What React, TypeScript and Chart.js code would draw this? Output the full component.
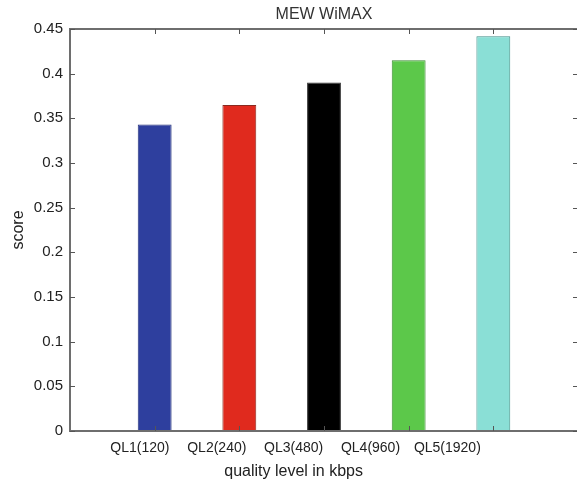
import React, { useEffect, useRef } from "react";
import { Chart, registerables } from "chart.js";

Chart.register(...registerables);

const categories = ["QL1(120)", "QL2(240)", "QL3(480)", "QL4(960)", "QL5(1920)"];
const positions = [1, 2, 3, 4, 5];
const scores = [0.343, 0.365, 0.39, 0.415, 0.442];
const barColors = ["#2e3f9e", "#e02a1e", "#000000", "#5cc84a", "#8adfd6"];
const borderColors = ["#24307a", "#8a2a20", "#333333", "#3c8a32", "#3e8f88"];
const yTickValues = [0, 0.05, 0.1, 0.15, 0.2, 0.25, 0.3, 0.35, 0.4, 0.45];
const chartTitle = "MEW WiMAX";
const xTitle = "quality level in kbps";

const AXIS = "#6e6e6e";
const FONT = "Liberation Sans, Arial, sans-serif";

const decorations = {
  id: "decorations",
  afterDraw(chart: any) {
    const { ctx, scales } = chart;
    const ys = scales.y;
    const L = Math.round(chart.chartArea.left);
    const R = Math.round(chart.chartArea.right);
    const T = Math.round(ys.getPixelForValue(0.45));
    const B = Math.round(ys.getPixelForValue(0));
    ctx.save();
    ctx.fillStyle = AXIS;
    ctx.fillRect(L - 1, T - 1, R - L + 2, 2);
    ctx.fillRect(L - 1, B - 1, R - L + 2, 2);
    ctx.fillRect(L - 1, T - 1, 2, B - T + 2);
    ctx.fillRect(R - 1, T - 1, 2, B - T + 2);
    ctx.fillStyle = "#555";
    for (const v of yTickValues) {
      const y = Math.round(ys.getPixelForValue(v));
      ctx.fillRect(L, y, 5, 1);
      ctx.fillRect(R - 5, y, 5, 1);
    }
    for (const p of positions) {
      const x = Math.round(scales.x.getPixelForValue(p));
      ctx.fillRect(x, B - 5, 1, 5);
      ctx.fillRect(x, T, 1, 5);
    }
    ctx.fillStyle = "#333";
    ctx.textAlign = "center";
    ctx.textBaseline = "middle";
    ctx.font = `16px ${FONT}`;
    ctx.fillText(chartTitle, (L + R) / 2, 15);
    ctx.fillStyle = "#222";
    ctx.textBaseline = "alphabetic";
    ctx.fillText(xTitle, scales.xl.getPixelForValue(3), 476);
    ctx.restore();
  },
};

export default function App() {
  const ref = useRef<HTMLCanvasElement | null>(null);
  useEffect(() => {
    if (!ref.current) return;
    const chart = new Chart(ref.current, {
      type: "bar",
      data: {
        datasets: [
          {
            data: positions.map((p, i) => ({ x: p, y: scores[i] })),
            backgroundColor: barColors,
            borderColor: borderColors,
            borderWidth: 1,
            barPercentage: 0.4,
            categoryPercentage: 1,
          },
        ],
      },
      options: {
        responsive: false,
        maintainAspectRatio: false,
        animation: false,
        layout: { padding: { left: 0, right: 2, top: 29, bottom: 0 } },
        plugins: {
          legend: { display: false },
          tooltip: { enabled: false },
          title: { display: false },
        },
        scales: {
          x: { type: "linear", min: 0, max: 6, offset: false, display: false },
          xl: {
            type: "linear",
            axis: "x",
            position: "bottom",
            min: 0.09,
            max: 6.7,
            offset: false,
            grid: { display: false, drawTicks: false },
            border: { display: false },
            afterFit: (s: any) => { s.height = 54; },
            afterBuildTicks: (s: any) => { s.ticks = positions.map((v) => ({ value: v })); },
            ticks: {
              padding: 9,
              color: "#222",
              font: { family: FONT, size: 14 },
              callback: (v: any) => categories[positions.indexOf(Number(v))] ?? "",
              maxRotation: 0,
              autoSkip: false,
            },
          },
          y: {
            min: 0,
            max: 0.45,
            grid: { display: false, drawTicks: false },
            border: { display: false },
            afterFit: (s: any) => { s.width = 70; },
            afterBuildTicks: (s: any) => { s.ticks = yTickValues.map((v) => ({ value: v })); },
            ticks: {
              padding: 7,
              color: "#222",
              font: { family: FONT, size: 15 },
              callback: (v: any) => String(Number(Number(v).toFixed(2))),
            },
            title: {
              display: true,
              text: "score",
              color: "#222",
              font: { family: FONT, size: 16 },
              padding: { top: 9, bottom: 0 },
            },
          },
        },
      },
      plugins: [decorations],
    } as any);
    return () => chart.destroy();
  }, []);
  return (
    <div style={{ position: "fixed", left: 0, top: 0, width: 577, height: 485, overflow: "hidden", background: "#fff" }}>
      <canvas ref={ref} width={580} height={485} style={{ display: "block" }} />
    </div>
  );
}
